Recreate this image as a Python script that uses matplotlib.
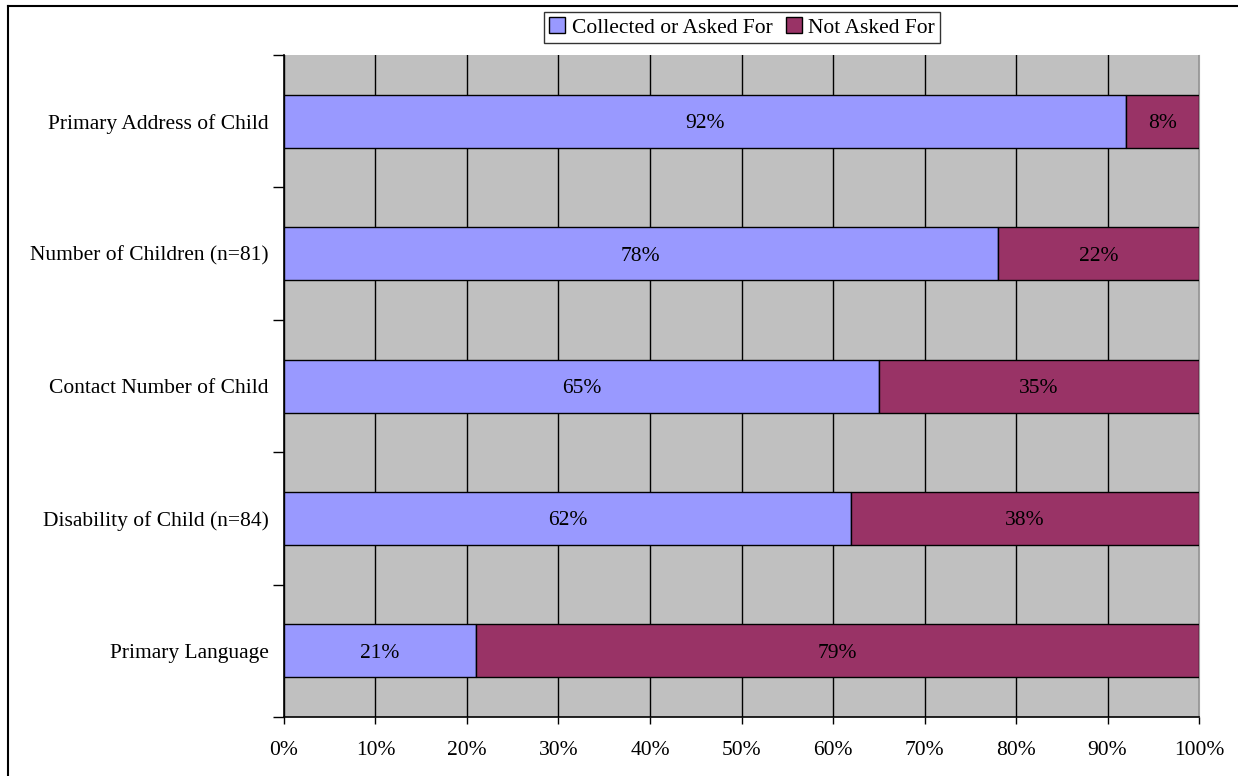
import matplotlib
matplotlib.use("Agg")
import matplotlib.pyplot as plt
from matplotlib.lines import Line2D

categories = ["Primary Language", "Disability of Child (n=84)", "Contact Number of Child",
              "Number of Children (n=81)", "Primary Address of Child"]
collected = [21, 62, 65, 78, 92]
not_asked = [79, 38, 35, 22, 8]
xticks = [0, 10, 20, 30, 40, 50, 60, 70, 80, 90, 100]

blue = "#9999ff"
plum = "#993366"
fs = 15.5

plt.rcParams["font.family"] = ["Liberation Serif", "DejaVu Serif"]

fig = plt.figure(figsize=(12.38, 7.76), dpi=100)
ax = fig.add_axes([0.2294, 0.076, 0.7391, 0.8531])
ax.set_facecolor("#c0c0c0")

y = list(range(len(categories)))
b1 = ax.barh(y, collected, height=0.4, color=blue, edgecolor="black", linewidth=1, zorder=3,
             label="Collected or Asked For")
b2 = ax.barh(y, not_asked, left=collected, height=0.4, color=plum, edgecolor="black", linewidth=1,
             zorder=3, label="Not Asked For")

for i in range(len(categories)):
    ax.text(collected[i] / 2, i, f"{collected[i]}%", ha="center", va="center_baseline",
            fontsize=fs, zorder=4)
    ax.text(collected[i] + not_asked[i] / 2, i, f"{not_asked[i]}%", ha="center",
            va="center_baseline", fontsize=fs, zorder=4)

ax.set_xlim(0, 100)
ax.set_ylim(-0.5, len(categories) - 0.5)
ax.set_xticks(xticks)
ax.set_xticklabels([f"{t}%" for t in xticks], fontsize=fs)
ax.xaxis.grid(True, color="black", linewidth=1, zorder=1)
ax.set_axisbelow(True)

# category ticks at the boundaries, labels at the centres
ax.set_yticks([i - 0.5 for i in range(len(categories) + 1)])
ax.set_yticklabels([])
ax.set_yticks(y, minor=True)
ax.set_yticklabels(categories, minor=True, fontsize=fs)
ax.tick_params(axis="y", which="minor", length=0, pad=11)
ax.tick_params(axis="y", which="major", length=8, width=1, direction="out")
ax.tick_params(axis="x", length=5, width=1, direction="out", pad=12)

ax.spines["top"].set_visible(False)
ax.spines["right"].set_color("#a0a0a0")
ax.spines["left"].set_linewidth(1.2)
ax.spines["bottom"].set_linewidth(1.2)

leg = fig.legend(handles=[b1, b2], loc="upper center", bbox_to_anchor=(0.5994, 0.9845), ncol=2,
                 fontsize=fs, frameon=True, fancybox=False, edgecolor="black", handlelength=0.75,
                 handleheight=0.75, handletextpad=0.3, columnspacing=0.6, borderpad=0.25,
                 borderaxespad=0)
leg.get_frame().set_linewidth(1)

# outer border: only top and left edges show
fig.add_artist(Line2D([0.0062, 1.0], [0.9925, 0.9925], transform=fig.transFigure,
                      color="black", linewidth=1.5))
fig.add_artist(Line2D([0.0062, 0.0062], [0.0, 0.9925], transform=fig.transFigure,
                      color="black", linewidth=1.5))

fig.savefig("out.png", dpi=100)
